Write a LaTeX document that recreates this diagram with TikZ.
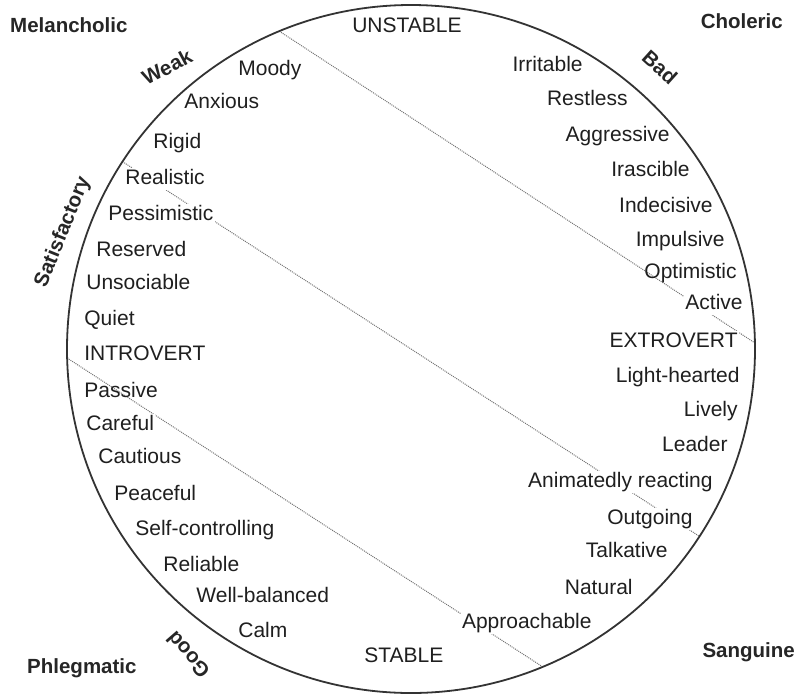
\documentclass[tikz,border=0pt]{standalone}
\usepackage{fontspec}
\setmainfont{Liberation Sans}
\usetikzlibrary{calc}
\begin{document}
\begin{tikzpicture}[x=1pt,y=-1pt,
  lbl/.style={font=\fontsize{21}{24}\selectfont, text=black!88, inner sep=1.2pt, fill=white, text height=15pt, text depth=4.5pt},
  lblr/.style={lbl, anchor=east},
  lbll/.style={lbl, anchor=west},
  lbln/.style={lbl, fill=none},
  big/.style={font=\fontsize{20.5}{24}\selectfont\bfseries, text=black!85, inner sep=1pt},
  chord/.style={draw=black!55, line width=1pt, dash pattern=on 1pt off 1pt},
  rim/.style={draw=black!80, line width=1.8pt}]
\useasboundingbox (0,0) rectangle (798,697);
\coordinate (c) at (411,349);
\coordinate (a1) at ($(c)+(112.5:344pt)$);
\coordinate (b1) at ($(c)+(1:344pt)$);
\coordinate (a2) at ($(c)+(147:344pt)$);
\coordinate (b2) at ($(c)+(-33:344pt)$);
\coordinate (a3) at ($(c)+(181.5:344pt)$);
\coordinate (b3) at ($(c)+(-67.5:344pt)$);
% dotted chords
\draw[chord] (a1) -- (b1);
\draw[chord] (a2) -- (b2);
\draw[chord] (a3) -- (b3);
% left column
\node[lbll] (moody) at (237,70) {Moody};
\node[lbll] (anxious) at (183,103) {Anxious};
\node[lbll] (rigid) at (152,143) {Rigid};
\node[lbll] (realistic) at (124,179) {Realistic};
\node[lbll] (pessimistic) at (107,215) {Pessimistic};
\node[lbll] (reserved) at (95,251) {Reserved};
\node[lbll] (unsociable) at (85,284) {Unsociable};
\node[lbll] (quiet) at (83,320) {Quiet};
\node[lbll] (introvert) at (83,355) {INTROVERT};
\node[lbll, fill=none] (passive) at (83,392) {Passive};
\node[lbll] (careful) at (85,425) {Careful};
\node[lbll] (cautious) at (97,458) {Cautious};
\node[lbll] (peaceful) at (113,495) {Peaceful};
\node[lbll] (selfc) at (134,530) {Self-controlling};
\node[lbll] (reliable) at (162,566) {Reliable};
\node[lbll] (wellb) at (195,597) {Well-balanced};
\node[lbll] (calm) at (237,632) {Calm};
\node[lbll] (stable) at (363,657) {STABLE};
% right column
\node[lblr] (unstable) at (463,27) {UNSTABLE};
\node[lblr] (irritable) at (584,66) {Irritable};
\node[lblr] (restless) at (629,100) {Restless};
\node[lblr] (aggressive) at (671,136) {Aggressive};
\node[lblr] (irascible) at (691,171) {Irascible};
\node[lblr] (indecisive) at (714,207) {Indecisive};
\node[lblr] (impulsive) at (726,241) {Impulsive};
\node[lblr, fill=none] (optimistic) at (738,273) {Optimistic};
\node[lblr] (active) at (744,304) {Active};
\node[lblr] (extrovert) at (739,342) {EXTROVERT};
\node[lblr] (lighth) at (741,377) {Light-hearted};
\node[lblr] (lively) at (739,411) {Lively};
\node[lblr] (leader) at (729,446) {Leader};
\node[lblr] (animated) at (714,482) {Animatedly reacting};
\node[lblr] (outgoing) at (694,519) {Outgoing};
\node[lblr] (talkative) at (669,552) {Talkative};
\node[lblr] (natural) at (634,589) {Natural};
\node[lblr] (approachable) at (593,623) {Approachable};
% corner labels
\node[big, anchor=west] (melancholic) at (9,25) {Melancholic};
\node[big, anchor=east] (choleric) at (784,21) {Choleric};
\node[big, anchor=west] (phlegmatic) at (26,668) {Phlegmatic};
\node[big, anchor=east] (sanguine) at (796,652) {Sanguine};
% rim labels
\node[big, rotate=28] (weak) at (167,67) {Weak};
\node[big, rotate=68] (satisfactory) at (63,232) {Satisfactory};
\node[big, rotate=-42] (bad) at (660,67) {Bad};
\node[big, rotate=131] (good) at (188,655) {Good};
% rim
\draw[rim] (c) circle[radius=344pt];
\end{tikzpicture}
\end{document}
